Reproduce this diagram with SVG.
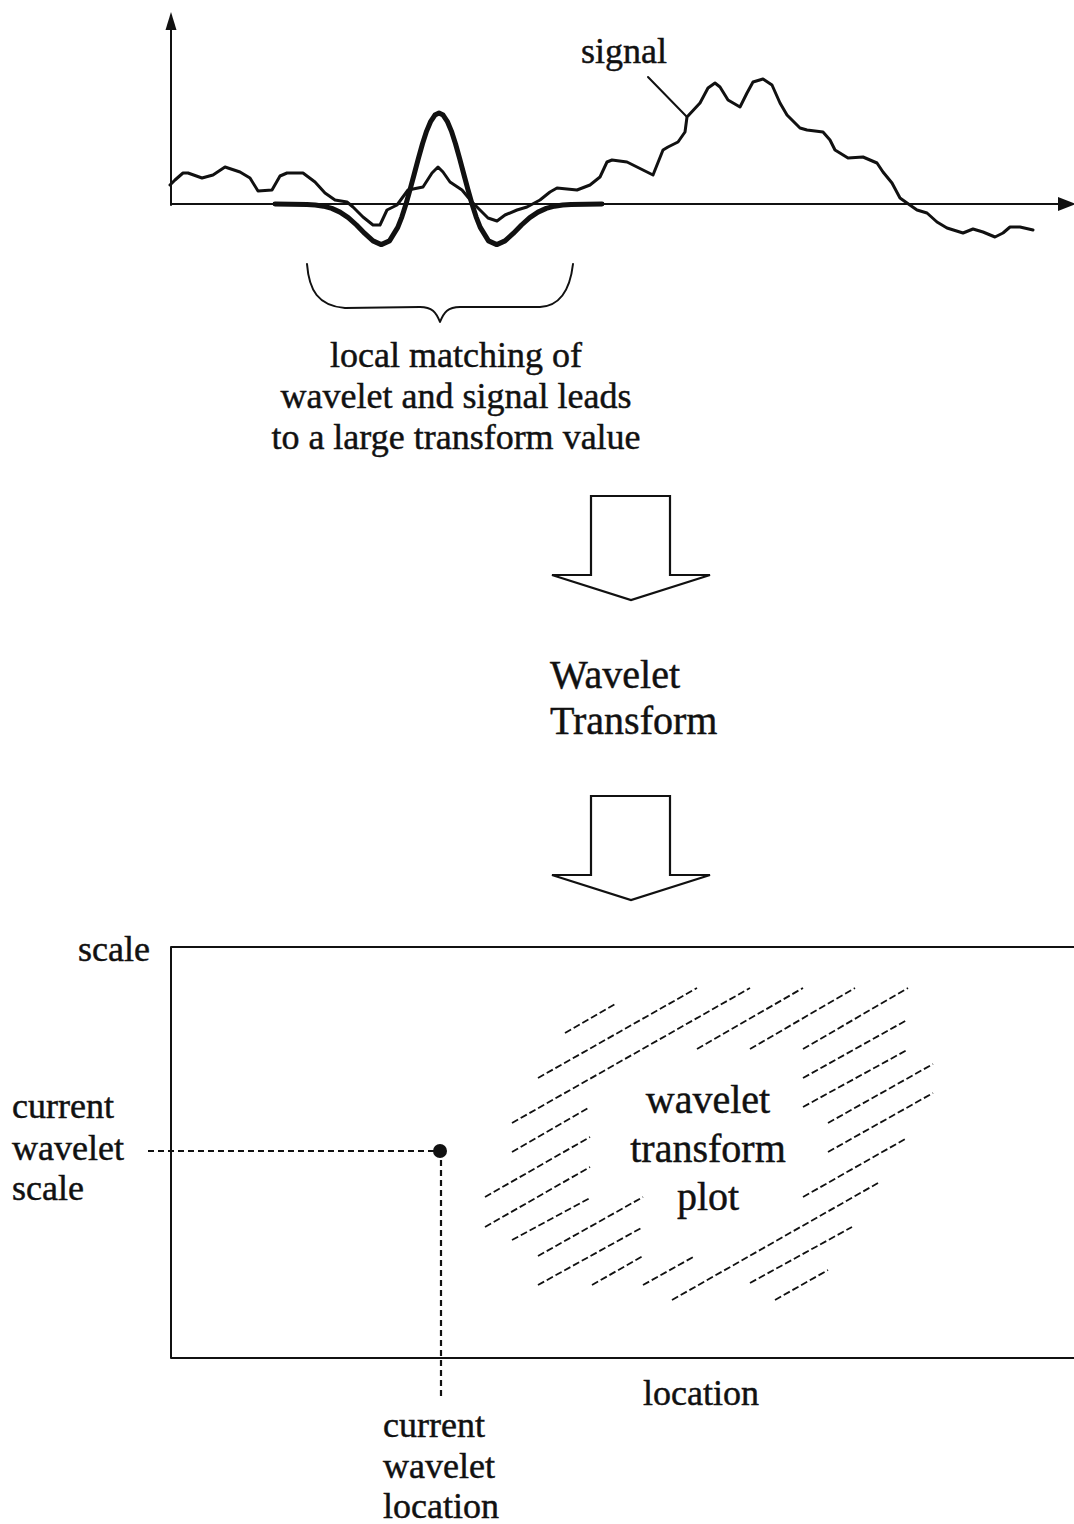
<svg xmlns="http://www.w3.org/2000/svg" width="1074" height="1524" viewBox="0 0 1074 1524">
<style>
text{font-family:"Liberation Serif","Times New Roman",serif;fill:#111;stroke:#111;stroke-width:0.45}
.t36{font-size:36px}
.t40{font-size:40px}
.ln{fill:none;stroke:#111;stroke-width:2;stroke-linejoin:round;stroke-linecap:round}
.sig{fill:none;stroke:#111;stroke-width:3;stroke-linejoin:round;stroke-linecap:round}
.wav{fill:none;stroke:#111;stroke-width:5;stroke-linejoin:round;stroke-linecap:round}
.dash{fill:none;stroke:#111;stroke-width:2.2;stroke-dasharray:6 4}
.hatch{fill:none;stroke:#111;stroke-width:1.8;stroke-dasharray:7 3}
.blk{fill:none;stroke:#111;stroke-width:2.2;stroke-linejoin:miter}
</style>
<rect width="1074" height="1524" fill="#fff"/>

<g id="signal-plot">
  <line class="ln" x1="171" y1="26" x2="171" y2="205"/>
  <polygon points="171,12 165.5,30 176.5,30" fill="#111"/>
  <line class="ln" x1="171" y1="204" x2="1062" y2="204"/>
  <polygon points="1076,204 1058,197 1058,211" fill="#111"/>
  <polyline class="sig" points="170,185 175,180 183,173 188,173 202,178 213,175 225,167 240,172 250,178 258,191 272,190 280,176 287,173 303,173 315,182 325,193 335,200 347,202 353,207 363,217 373,225 380,225 387,210 397,205 408,190 423,187 432,173 438,167 443,172 450,182 462,190 472,202 480,210 488,218 497,221 505,215 517,210 527,207 540,200 550,192 557,188 577,190 590,185 600,177 607,162 612,160 627,162 643,170 653,175 663,150 668,147 678,142 685,132 687,117 700,103 708,88 715,83 720,87 728,100 740,107 747,93 753,82 763,79 772,85 780,103 787,115 800,128 807,130 823,132 830,140 835,150 848,158 863,157 877,163 883,172 892,183 900,198 907,203 917,210 927,213 937,222 947,228 963,233 973,229 983,232 995,237 1003,233 1010,227 1020,227 1033,230"/>
  <polyline class="wav" points="275,204 307,204.5 315.25,205.1 323.5,206.2 331.75,208.4 340,212.1 348.25,217.6 356.5,225 364.75,233.4 373,240.9 381.25,244.6 389.5,240.9 397.75,227.4 401.9,216.8 406,204 410.1,189.4 414.25,174 418.4,158.4 422.5,143.8 426.6,131.1 430.75,121.3 434.9,115.1 439,113 443.1,115.1 447.25,121.3 451.4,131.1 455.5,143.8 459.6,158.4 463.75,174 467.9,189.4 472,204 476.1,216.8 480.25,227.4 488.5,240.9 496.75,244.6 505,240.9 513.25,233.4 521.5,225 529.75,217.6 538,212.1 546.25,208.4 554.5,206.2 562.75,205.1 571,204.5 602,204"/>
  <line class="ln" x1="648" y1="77" x2="687" y2="117"/>
  <text class="t36" x="581" y="63">signal</text>
</g>

<g id="brace-label">
  <path class="ln" d="M307,264 C309,290 318,306 345,308 L420,307 C432,307 436,312 440,322 C444,312 448,307 460,307 L540,307 C560,306 570,290 573,264"/>
  <text class="t36" x="456" y="367" text-anchor="middle">local matching of</text>
  <text class="t36" x="456" y="408" text-anchor="middle">wavelet and signal leads</text>
  <text class="t36" x="456" y="449" text-anchor="middle">to a large transform value</text>
</g>

<g id="connectors">
  <polygon class="blk" fill="#fff" points="591,496 670,496 670,575 710,575 631,600 552,575 591,575"/>
  <polygon class="blk" fill="#fff" points="591,796 670,796 670,875 710,875 631,900 552,875 591,875"/>
  <line class="dash" x1="148" y1="1151" x2="436" y2="1151"/>
  <line class="dash" x1="441" y1="1160" x2="441" y2="1396"/>
</g>

<g id="transform-label">
  <text class="t40" x="550" y="688">Wavelet</text>
  <text class="t40" x="550" y="734">Transform</text>
</g>

<g id="transform-plot">
  <polyline class="ln" points="1076,947 171,947 171,1358 1076,1358"/>
  <text class="t36" x="150" y="961" text-anchor="end">scale</text>
  <text class="t36" x="643" y="1405">location</text>
  <g id="hatching">
    <line class="hatch" x1="565" y1="1033" x2="617" y2="1003"/>
    <line class="hatch" x1="538" y1="1078" x2="697" y2="988"/>
    <line class="hatch" x1="512" y1="1123" x2="750" y2="988"/>
    <line class="hatch" x1="697" y1="1049" x2="803" y2="988"/>
    <line class="hatch" x1="750" y1="1049" x2="855" y2="988"/>
    <line class="hatch" x1="803" y1="1049" x2="908" y2="988"/>
    <line class="hatch" x1="803" y1="1078" x2="907" y2="1020"/>
    <line class="hatch" x1="803" y1="1107" x2="907" y2="1050"/>
    <line class="hatch" x1="828" y1="1123" x2="933" y2="1064"/>
    <line class="hatch" x1="828" y1="1152" x2="933" y2="1093"/>
    <line class="hatch" x1="803" y1="1197" x2="907" y2="1138"/>
    <line class="hatch" x1="672" y1="1300" x2="878" y2="1183"/>
    <line class="hatch" x1="750" y1="1283" x2="852" y2="1227"/>
    <line class="hatch" x1="775" y1="1300" x2="828" y2="1270"/>
    <line class="hatch" x1="512" y1="1152" x2="590" y2="1107"/>
    <line class="hatch" x1="485" y1="1197" x2="590" y2="1137"/>
    <line class="hatch" x1="485" y1="1227" x2="590" y2="1167"/>
    <line class="hatch" x1="512" y1="1240" x2="590" y2="1198"/>
    <line class="hatch" x1="538" y1="1256" x2="643" y2="1197"/>
    <line class="hatch" x1="538" y1="1285" x2="643" y2="1227"/>
    <line class="hatch" x1="592" y1="1285" x2="643" y2="1256"/>
    <line class="hatch" x1="643" y1="1285" x2="695" y2="1256"/>
  </g>
  <text class="t40" x="708" y="1113" text-anchor="middle">wavelet</text>
  <text class="t40" x="708" y="1162" text-anchor="middle">transform</text>
  <text class="t40" x="708" y="1210" text-anchor="middle">plot</text>
</g>

<g id="current-point">
  <circle cx="440" cy="1151" r="7" fill="#111"/>
</g>

<g id="scale-label">
  <text class="t36" x="12" y="1118">current</text>
  <text class="t36" x="12" y="1160">wavelet</text>
  <text class="t36" x="12" y="1200">scale</text>
</g>

<g id="location-label">
  <text class="t36" x="383" y="1437">current</text>
  <text class="t36" x="383" y="1478">wavelet</text>
  <text class="t36" x="383" y="1518">location</text>
</g>
</svg>
